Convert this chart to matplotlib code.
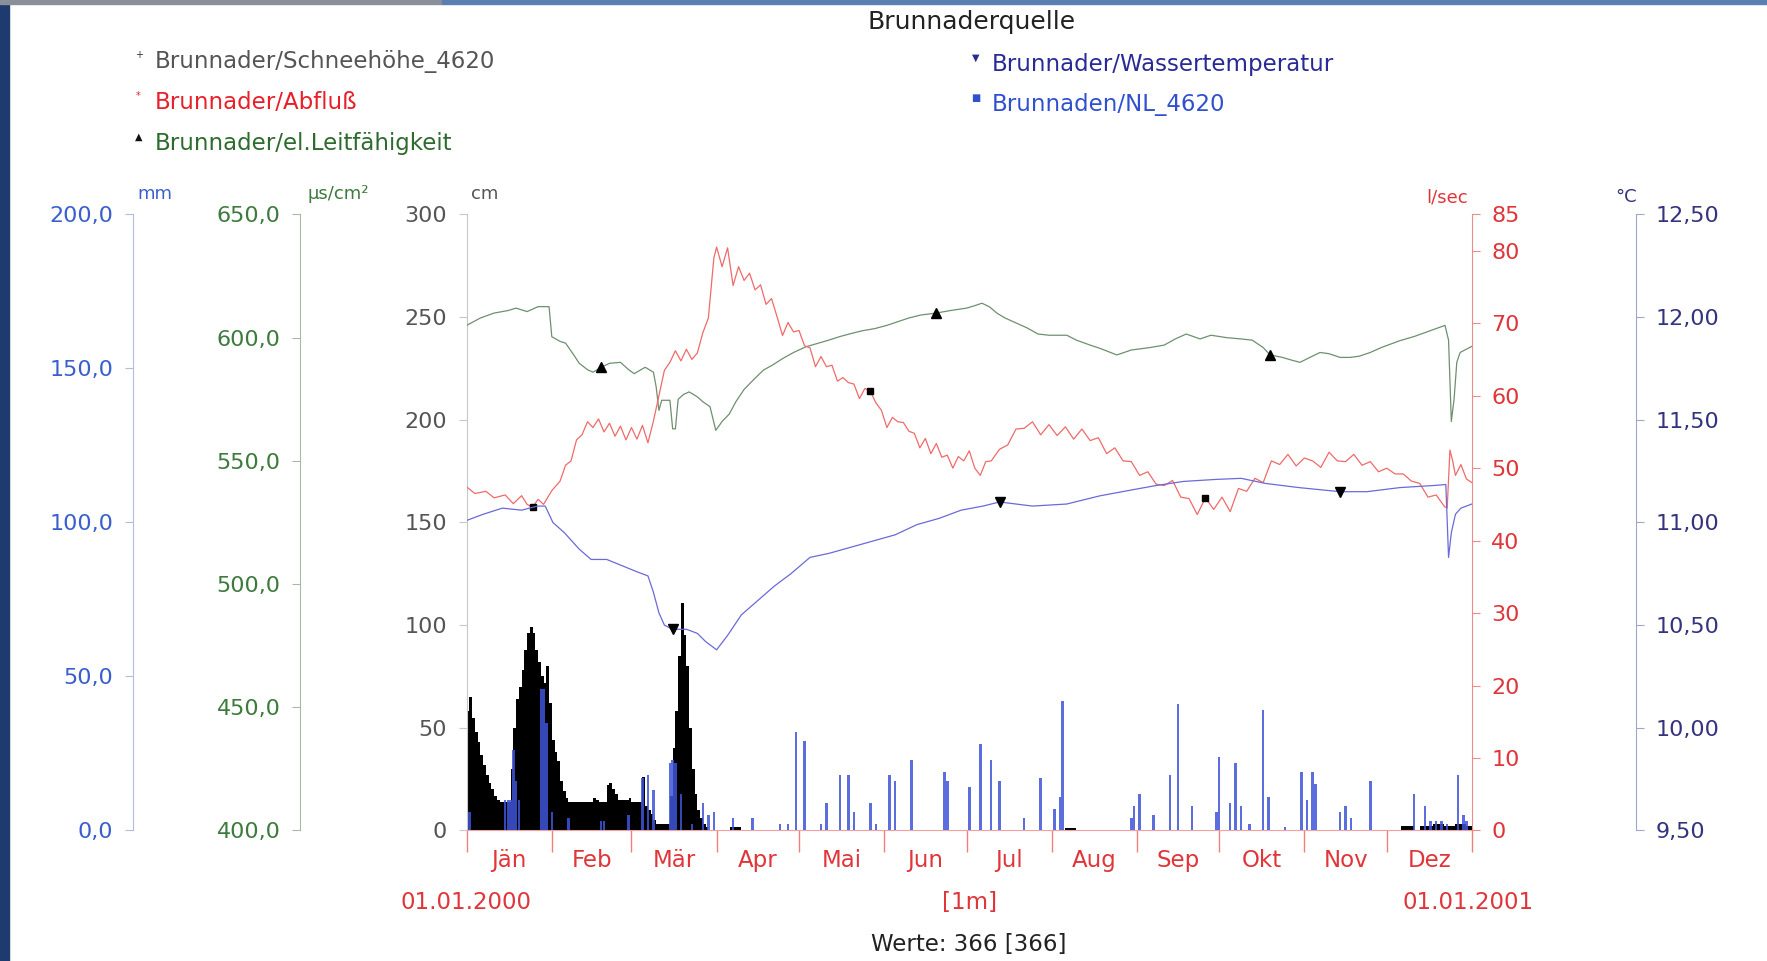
import numpy as np
import matplotlib
matplotlib.use('Agg')
import matplotlib.pyplot as plt
from matplotlib.ticker import FuncFormatter
from matplotlib.patches import Rectangle

# ---------------- Daten ----------------
months = ['Jän', 'Feb', 'Mär', 'Apr', 'Mai', 'Jun', 'Jul', 'Aug', 'Sep', 'Okt', 'Nov', 'Dez']
month_start = [0, 31, 60, 91, 121, 152, 182, 213, 244, 274, 305, 335, 366]

# Schneehöhe [cm]
snow_day = [0, 1, 2, 3, 4, 5, 6, 7, 8, 9, 10, 11, 12, 16, 17, 18, 19, 20, 21, 22, 23, 24, 25, 26,
            27, 28, 29, 30, 31, 32, 33, 34, 35, 36, 37, 46, 47, 48, 51, 52, 53, 54, 55, 59, 60, 64,
            65, 66, 67, 68, 69, 74, 75, 76, 77, 78, 79, 80, 81, 82, 83, 84, 85, 86, 87, 88,
            96, 100, 218, 222, 340, 345, 347, 352, 356, 360, 364, 366]
snow_cm = [58, 65, 55, 48, 43, 37, 32, 27, 23, 20, 17, 15, 14, 30, 50, 64, 70, 78, 88, 96, 99, 96, 88, 82,
           75, 72, 80, 62, 44, 38, 34, 24, 19, 16, 14, 16, 15, 14, 22, 23, 20, 18, 15, 16, 14, 26,
           12, 10, 8, 5, 3, 17, 40, 58, 85, 111, 95, 80, 50, 30, 18, 10, 6, 3, 1.5, 0,
           1.5, 0, 1.2, 0, 2, 0, 2, 3, 2, 3, 2, 0]

# Niederschlag NL_4620 [mm]
precip_day = [1, 14, 15, 16, 17, 18, 19, 27, 28, 29, 31, 37, 49, 50, 59, 64, 66, 68, 74, 75, 76, 78,
              82, 86, 88, 90, 97, 104, 114, 117, 120, 123, 129, 131, 136, 139, 141, 147, 149, 154,
              156, 162, 174, 175, 183, 187, 191, 194, 203, 209, 214, 216, 217, 242, 243, 245, 250,
              256, 259, 264, 273, 274, 278, 280, 282, 285, 290, 292, 298, 304, 306, 308, 309, 318,
              320, 322, 329, 345, 349, 351, 353, 355, 357, 361, 363, 364]
precip_mm = [6, 10, 10, 10, 26, 16, 10, 46, 46, 35, 6, 4, 3, 3, 5, 17, 18, 13, 22, 23, 22, 12,
             2, 9, 5, 6, 4, 4, 2, 2, 32, 29, 2, 9, 18, 18, 6, 9, 2, 18,
             16, 23, 19, 16, 14, 28, 23, 16, 4, 17, 7, 11, 42, 4, 8, 12, 5,
             18, 41, 8, 6, 24, 9, 22, 8, 2, 39, 11, 1, 19, 10, 19, 15, 6,
             8, 4, 16, 12, 8, 3, 3, 3, 2, 18, 5, 3]

# Abfluß [l/sec]
flow_day = [0, 3, 7, 10, 14, 17, 20, 22, 24, 26, 28, 31, 34, 36, 38, 40, 42, 44, 46, 48, 50, 52, 54,
            56, 58, 60, 62, 64, 66, 68, 70, 72, 74, 76, 78, 80, 82, 84, 86, 88, 90, 91, 93, 95, 97,
            99, 101, 103, 105, 107, 109, 111, 113, 115, 117, 119, 121, 123, 125, 127, 129, 131, 133,
            135, 137, 139, 141, 143, 145, 147, 149, 151, 153, 155, 157, 159, 161, 163, 165, 167, 169,
            171, 173, 175, 177, 179, 181, 183, 185, 187, 189, 191, 194, 197, 200, 203, 206, 209, 212,
            215, 218, 221, 224, 227, 230, 233, 236, 239, 242, 245, 248, 251, 254, 257, 260, 263, 266,
            269, 272, 275, 278, 281, 284, 287, 290, 293, 296, 299, 302, 305, 308, 311, 314, 317, 320,
            323, 326, 329, 332, 335, 338, 341, 344, 347, 350, 353, 356, 357, 358, 359, 360, 362, 364, 366]
flow_ls = [47.4, 46.5, 46.8, 45.9, 46.3, 45.1, 46.2, 45.0, 44.6, 45.7, 45.0, 46.9, 48.2, 50.4, 51.0, 53.9,
           54.6, 56.4, 55.6, 56.8, 55.0, 56.2, 54.4, 55.8, 53.9, 55.6, 54.0, 55.9, 53.5, 56.5, 60.0, 63.5,
           64.6, 66.2, 64.8, 66.4, 65.0, 65.9, 68.7, 70.7, 79.0, 80.5, 77.8, 80.4, 75.2, 77.8, 75.9, 76.9,
           74.6, 75.3, 72.6, 73.4, 70.9, 68.3, 70.1, 68.8, 69.0, 66.9, 66.6, 64.0, 65.4, 64.0, 64.2, 62.0,
           62.5, 61.8, 61.6, 59.6, 61.0, 60.6, 59.0, 58.0, 55.6, 57.0, 56.4, 56.3, 55.1, 54.8, 52.8, 54.1,
           52.0, 53.4, 51.5, 51.8, 50.0, 51.6, 51.0, 52.4, 50.0, 49.0, 50.9, 51.0, 52.6, 53.2, 55.4, 55.5,
           56.4, 54.6, 56.0, 54.5, 55.7, 54.0, 55.4, 53.8, 54.2, 52.0, 52.8, 51.0, 50.9, 49.0, 49.5, 47.8,
           47.6, 48.3, 46.0, 45.8, 43.6, 45.9, 44.3, 46.0, 44.0, 47.2, 46.8, 48.6, 48.0, 51.0, 50.5, 51.9,
           50.3, 51.4, 51.0, 50.1, 52.2, 51.0, 50.9, 51.9, 50.4, 50.9, 49.5, 50.0, 49.2, 49.2, 48.2, 47.9,
           46.0, 46.3, 44.7, 44.5, 52.5, 51.0, 49.0, 50.5, 48.5, 48.0]

# el. Leitfähigkeit [µs/cm²]
cond_day = [0, 5, 10, 15, 18, 22, 26, 30, 31, 34, 36, 39, 41, 44, 46, 49, 52, 56, 59, 61, 65, 68, 69,
            70, 71, 73, 74, 75, 76, 77, 79, 81, 84, 86, 88.6, 90.7, 93, 95.6, 98, 101, 104.5, 108,
            111.5, 115, 119, 123.5, 127.5, 131.8, 136, 140, 144, 148.6, 153, 157, 161, 165.3, 171,
            176, 182, 185, 187.6, 190.4, 193, 196, 200, 204, 208, 212, 218.5, 222, 227, 231, 236.7,
            242, 248.8, 254, 258, 262, 267, 271, 276.8, 282, 286, 290, 292.5, 297, 300, 303.4, 307,
            310.7, 314, 318, 321.6, 325, 329, 333, 339.8, 345, 350, 356.2, 357.5, 358.5, 359.5,
            360.5, 361.7, 366]
cond_us = [605, 608, 610, 611, 612, 610.6, 612.6, 612.6, 600.4, 598.5, 597.8, 593, 589.6, 587, 586, 588,
           589.6, 590, 587, 585.4, 588, 586, 580, 570.5, 574.6, 574.6, 574.6, 563, 563, 575, 577, 578,
           576, 574, 572, 562.4, 566, 569, 574, 579, 583, 586.8, 589, 591.5, 594, 596.3, 597.6, 599,
           600.5, 601.7, 602.8, 603.7, 605, 606.5, 608, 609.2, 610, 611, 612, 613, 614, 612.5, 610,
           608, 606, 604, 601.5, 601, 601, 599, 597, 595.5, 593, 595, 596, 597, 599.5, 601.5, 599.5,
           601, 600, 599.5, 599, 596, 593, 592, 591, 590, 592, 594, 593.5, 592, 592, 592.5, 594, 596,
           598.8, 600.5, 602.5, 605, 599, 566, 575, 590, 594, 596.5]

# Wassertemperatur [°C]
temp_day = [0, 6, 13, 20, 25.8, 28.6, 31.4, 35.6, 41, 45.3, 51, 56.5, 62, 66, 68, 70, 72, 75, 80, 84,
            87, 91, 95, 100, 106, 112, 118, 125, 132, 140, 148, 156, 164, 172, 180, 188, 194, 206,
            218.5, 230.6, 242.7, 251, 261, 273, 282, 291, 303, 318, 327.7, 339.8, 352, 356.5, 357.5,
            358.5, 360, 362, 366]
temp_c = [11.01, 11.04, 11.07, 11.06, 11.08, 11.08, 11.0, 10.95, 10.87, 10.82, 10.82, 10.79, 10.76, 10.74,
          10.66, 10.56, 10.50, 10.48, 10.48, 10.46, 10.42, 10.38, 10.45, 10.55, 10.62, 10.69, 10.75, 10.83,
          10.85, 10.88, 10.91, 10.94, 10.99, 11.02, 11.06, 11.08, 11.10, 11.08, 11.09, 11.13, 11.16, 11.18,
          11.20, 11.21, 11.215, 11.19, 11.17, 11.15, 11.15, 11.17, 11.18, 11.185, 10.83, 10.95, 11.04,
          11.07, 11.09]

flow_marks = [24, 147, 269]
cond_marks = [49, 171, 292.5]
temp_marks = [75, 194, 318]

# ---------------- Grafik ----------------
fig = plt.figure(figsize=(17.67, 9.61), dpi=100)
fig.patch.set_facecolor('white')
fig.patches.append(Rectangle((0, 0), 0.005, 1, transform=fig.transFigure, color='#1d3b6e', zorder=0))
fig.patches.append(Rectangle((0, 0.996), 0.25, 0.004, transform=fig.transFigure, color='#8a8f99', zorder=0))
fig.patches.append(Rectangle((0.25, 0.996), 0.75, 0.004, transform=fig.transFigure, color='#5a7fb0', zorder=0))

fs = 16      # Achsenbeschriftung
fs_txt = 16.5  # Legende, Datum

def comma(fmt):
    return FuncFormatter(lambda v, p: fmt.format(v).replace('.', ','))

host = fig.add_axes([0.2641, 0.1358, 0.5689, 0.641])
host.patch.set_alpha(0)
host.set_xlim(0, 366)
host.set_ylim(0, 300)
for s in ['top', 'right']:
    host.spines[s].set_visible(False)
host.spines['left'].set_color('#c8c8c8')
host.spines['bottom'].set_color('#f4a0a0')
host.fill_between(snow_day, 0, snow_cm, step='post', color='black', linewidth=0)
host.set_yticks(range(0, 301, 50))
host.tick_params(axis='y', colors='#c8c8c8', labelcolor='#555555', labelsize=fs, length=6, pad=8)
host.set_xticks(month_start)
host.set_xticklabels([])
host.tick_params(axis='x', which='major', colors='#f08080', length=16, width=1)
host.set_xticks([(a + b) / 2 for a, b in zip(month_start[:-1], month_start[1:])], minor=True)
host.set_xticklabels(months, minor=True)
host.tick_params(axis='x', which='minor', length=0, labelcolor='#e0353a', labelsize=fs_txt, pad=13)

def make_twin(side, pos, color, labelcolor):
    ax = host.twinx()
    ax.patch.set_alpha(0)
    for s in ['top', 'bottom', 'left', 'right']:
        ax.spines[s].set_visible(False)
    ax.spines[side].set_visible(True)
    ax.spines[side].set_position(('axes', pos))
    ax.spines[side].set_color(color)
    ax.yaxis.set_ticks_position(side)
    ax.yaxis.set_label_position(side)
    ax.tick_params(axis='y', colors=color, labelcolor=labelcolor, labelsize=fs, length=6, pad=8)
    return ax

ax_mm = make_twin('left', -0.332, '#b4bcdc', '#3a5fcd')
ax_mm.set_ylim(0, 200)
ax_mm.set_yticks(range(0, 201, 50))
ax_mm.yaxis.set_major_formatter(comma('{:.1f}'))
ax_mm.bar(precip_day, precip_mm, width=0.9, color='#3f55d8', alpha=0.85, linewidth=0)

ax_g = make_twin('left', -0.166, '#aab8aa', '#3d7a3d')
ax_g.set_ylim(400, 650)
ax_g.set_yticks(range(400, 651, 50))
ax_g.yaxis.set_major_formatter(comma('{:.1f}'))
ax_g.plot(cond_day, cond_us, color='#6f8f6f', lw=0.9)
ax_g.plot(cond_marks, [cond_us[cond_day.index(d)] for d in cond_marks], '^', color='black', ms=7)

ax_r = make_twin('right', 1.0, '#f08a8a', '#e0353a')
ax_r.set_ylim(0, 85)
ax_r.set_yticks(list(range(0, 81, 10)) + [85])
ax_r.plot(flow_day, flow_ls, color='#f06a6a', lw=0.9)
ax_r.plot(flow_marks, [flow_ls[flow_day.index(d)] for d in flow_marks], 's', color='black', ms=5)

ax_t = make_twin('right', 1.1637, '#a0a6c6', '#33337f')
ax_t.set_ylim(9.5, 12.5)
ax_t.set_yticks(np.arange(9.5, 12.51, 0.5))
ax_t.yaxis.set_major_formatter(comma('{:.2f}'))
ax_t.plot(temp_day, temp_c, color='#6a6ad8', lw=0.9)
ax_t.plot(temp_marks, [temp_c[temp_day.index(d)] for d in temp_marks], 'v', color='black', ms=7)

# Titel und Legende
fig.text(0.5498, 0.9766, 'Brunnaderquelle', ha='center', va='center', fontsize=18, color='#222222')
leg_left = [('Brunnader/Schneehöhe_4620', '#555555', '+', '#333333'),
            ('Brunnader/Abfluß', '#e8202a', '*', '#e8202a'),
            ('Brunnader/el.Leitfähigkeit', '#2e6b2e', '▲', '#111111')]
for (txt, col, mk, mcol), y in zip(leg_left, [0.9355, 0.8933, 0.851]):
    fig.text(0.0874, y, txt, ha='left', va='center', fontsize=fs_txt, color=col)
    fig.text(0.0784, y + 0.007, mk, ha='center', va='center', fontsize=7, color=mcol)
leg_right = [('Brunnader/Wassertemperatur', '#2a2a96', '▼', '#2a2a96'),
             ('Brunnaden/NL_4620', '#3050d0', '■', '#3050d0')]
for (txt, col, mk, mcol), y in zip(leg_right, [0.933, 0.891]):
    fig.text(0.5613, y, txt, ha='left', va='center', fontsize=fs_txt, color=col)
    fig.text(0.5523, y + 0.007, mk, ha='center', va='center', fontsize=7, color=mcol)

# Einheiten
fig.text(0.0874, 0.7983, 'mm', ha='center', va='center', fontsize=13, color='#3a5fcd')
fig.text(0.1913, 0.7983, 'µs/cm²', ha='center', va='center', fontsize=13, color='#3d7a3d')
fig.text(0.2743, 0.7983, 'cm', ha='center', va='center', fontsize=13, color='#555555')
fig.text(0.819, 0.795, 'l/sec', ha='center', va='center', fontsize=13, color='#e0353a')
fig.text(0.920, 0.795, '°C', ha='center', va='center', fontsize=13, color='#33337f')

# Zeitraum
fig.text(0.264, 0.0607, '01.01.2000', ha='center', va='center', fontsize=fs_txt, color='#e0353a')
fig.text(0.5485, 0.0607, '[1m]', ha='center', va='center', fontsize=fs_txt, color='#e0353a')
fig.text(0.831, 0.0607, '01.01.2001', ha='center', va='center', fontsize=fs_txt, color='#e0353a')
fig.text(0.5485, 0.0173, 'Werte: 366 [366]', ha='center', va='center', fontsize=fs_txt, color='#222222')

fig.savefig('out.png', dpi=100)
